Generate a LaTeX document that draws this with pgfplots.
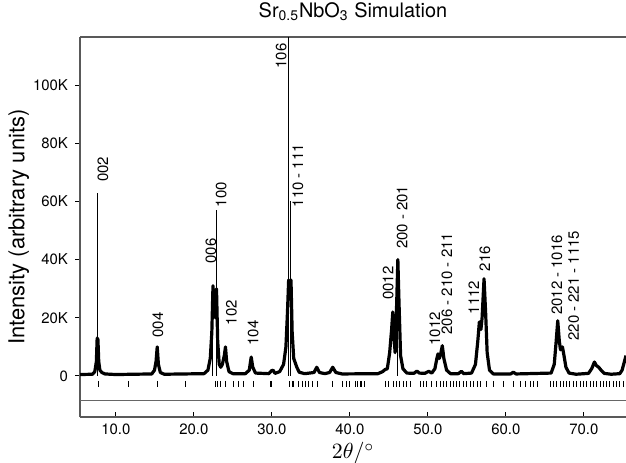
\documentclass[border=0pt]{standalone}
\usepackage{fontspec}
\setmainfont{TeX Gyre Heros}
\usepackage{pgfplots}
\usepackage{pgfplotstable}
\pgfplotsset{compat=1.18}
\usetikzlibrary{calc}

% simulated profile, intensity in thousands of counts
\pgfplotstableread{
x y
5.4 0.5
7.0 0.6
7.3 1.5
7.5 5
7.6 13
7.7 12.5
7.8 5
7.95 2
8.2 1.2
8.6 0.7
10.0 0.5
14.6 0.7
14.95 2
15.15 5
15.3 10
15.45 4
15.7 1.2
16.2 0.6
21.3 0.8
21.8 2
22.1 6
22.3 15
22.45 31
22.6 22
22.75 20
22.9 30
23.05 12
23.25 4
23.45 3
23.65 4
23.9 7
24.05 10
24.2 5
24.5 1.5
25.0 0.8
26.6 0.8
27.1 2
27.35 6.5
27.55 3
27.9 1
29.6 0.8
29.95 1.8
30.15 2
30.4 0.9
31.0 1.5
31.5 4
31.8 10
32.0 22
32.15 33
32.3 28
32.45 33
32.6 15
32.8 6
33.0 4.5
33.2 3
33.5 1.3
34.2 0.8
35.4 1.2
35.75 3
36.1 1.2
36.8 0.8
37.4 1.2
37.8 3
38.2 1.2
39.0 0.7
43.6 0.8
44.2 1.5
44.5 2.2
44.8 2.5
45.1 8
45.35 16
45.5 22
45.7 12
45.8 8
46.0 25
46.15 40
46.3 25
46.5 7
46.8 2.5
47.3 1
48.2 0.9
48.6 1.7
48.9 1
49.6 0.9
50.1 1.6
50.5 1
50.9 2.5
51.15 6
51.3 7.6
51.45 6
51.6 7
51.85 10.4
52.05 6
52.4 2
52.9 0.8
53.9 0.8
54.3 1.6
54.6 0.8
55.6 1
56.1 4
56.4 12
56.6 18.6
56.8 16
56.95 20
57.2 33.4
57.4 22
57.6 8
57.9 2
58.4 0.7
60.6 0.7
60.95 1.3
61.3 0.7
65.8 1
66.2 4
66.45 12
66.65 19
66.85 12
67.0 9
67.25 10
67.45 7
67.7 3
68.1 1
69.0 0.6
70.6 0.9
71.0 2.5
71.35 4.8
71.6 3.6
71.9 3
72.2 2
72.6 0.9
73.5 0.6
74.6 0.8
74.9 2
75.15 4.5
75.4 7
}\profile

% reflection positions (marker row below the baseline)
\pgfplotstableread{
x y
7.7 -2.8
11.55 -2.8
15.3 -2.8
18.9 -2.8
22.7 -2.8
23.0 -2.8
23.35 -2.8
24.0 -2.8
25.05 -2.8
25.7 -2.8
26.3 -2.8
27.6 -2.8
29.75 -2.8
30.0 -2.8
32.3 -2.8
32.6 -2.8
32.7 -2.8
33.4 -2.8
33.9 -2.8
34.25 -2.8
34.65 -2.8
35.15 -2.8
35.8 -2.8
37.7 -2.8
37.8 -2.8
39.1 -2.8
39.6 -2.8
40.0 -2.8
40.7 -2.8
40.9 -2.8
41.3 -2.8
41.5 -2.8
41.9 -2.8
44.5 -2.8
44.9 -2.8
45.6 -2.8
46.0 -2.8
46.4 -2.8
46.85 -2.8
47.3 -2.8
47.7 -2.8
49.0 -2.8
49.4 -2.8
49.85 -2.8
50.5 -2.8
51.1 -2.8
51.55 -2.8
52.0 -2.8
52.4 -2.8
52.85 -2.8
53.3 -2.8
53.7 -2.8
54.1 -2.8
54.55 -2.8
55.0 -2.8
55.4 -2.8
55.8 -2.8
56.3 -2.8
56.7 -2.8
57.55 -2.8
58.4 -2.8
59.7 -2.8
61.0 -2.8
61.8 -2.8
62.5 -2.8
63.1 -2.8
63.5 -2.8
64.0 -2.8
65.7 -2.8
66.1 -2.8
66.5 -2.8
67.0 -2.8
67.4 -2.8
67.8 -2.8
68.2 -2.8
68.65 -2.8
69.1 -2.8
69.5 -2.8
69.9 -2.8
70.35 -2.8
70.8 -2.8
71.2 -2.8
71.6 -2.8
72.1 -2.8
72.5 -2.8
72.9 -2.8
73.3 -2.8
73.8 -2.8
74.2 -2.8
74.6 -2.8
75.05 -2.8
}\refl

\begin{document}
\begin{tikzpicture}
\begin{axis}[
    scale only axis, width=273bp, height=190bp,
    xmin=5.4, xmax=75.4, ymin=-14.1, ymax=116.5,
    axis x line*=box, axis y line*=left,
    axis line style={black!65, line width=0.6bp, -},
    xtick={10,20,30,40,50,60,70},
    xticklabels={10.0,20.0,30.0,40.0,50.0,60.0,70.0},
    ytick={0,20,40,60,80,100},
    yticklabels={0,20K,40K,60K,80K,100K},
    xtick pos=bottom, ytick pos=left,
    xtick align=inside, ytick align=outside,
    major tick length=2.5bp,
    tick style={black, line width=0.5bp},
    ticklabel style={font=\fontsize{7.5}{8}\selectfont},
    /pgf/number format/assume math mode=true,
    xlabel={$2\theta/^{\circ}$},
    xlabel style={font=\fontsize{11}{12}\selectfont, yshift=3bp},
    ylabel={Intensity (arbitrary units)},
    ylabel style={font=\fontsize{11}{12}\selectfont,
        at={(axis description cs:-0.112,0.5)}, anchor=center},
    title={Sr\textsubscript{0.5}NbO\textsubscript{3} Simulation},
    title style={font=\fontsize{10}{11}\selectfont, yshift=-1.5bp},
    clip=true,
]
\addplot[black, line width=0.5bp, ycomb] coordinates {
    (7.7,63) (22.45,31) (22.9,57) (32.15,125) (32.45,60) (46.15,40)
};
\addplot[black, line width=1.6bp, line join=round] table[x=x, y=y] {\profile};
\addplot[black, only marks, mark=|, mark size=1.6bp,
    mark options={line width=0.4bp}] table[x=x, y=y] {\refl};
\addplot[black!60, line width=0.6bp] coordinates {(5.4,-8.4) (75.4,-8.4)};

\begin{scope}[every node/.style={rotate=90, anchor=west, inner sep=0.8bp,
        font=\fontsize{7.5}{8}\selectfont}]
\node at (axis cs:8.35,66) {002};
\node at (axis cs:15.4,12.5) {004};
\node at (axis cs:22.2,38) {006};
\node at (axis cs:23.5,57.3) {100};
\node at (axis cs:24.8,16.8) {102};
\node at (axis cs:27.6,9.8) {104};
\node at (axis cs:31.2,105) {106};
\node at (axis cs:33.35,57.3) {110 - 111};
\node at (axis cs:44.9,25.5) {0012};
\node at (axis cs:46.7,43) {200 - 201};
\node at (axis cs:50.9,9.8) {1012};
\node at (axis cs:52.45,13.6) {206 - 210 - 211};
\node at (axis cs:55.9,20.6) {1112};
\node at (axis cs:57.3,35.3) {216};
\node at (axis cs:66.55,20.3) {2012 - 1016};
\node at (axis cs:68.7,11.5) {220 - 221 - 1115};
\end{scope}
\end{axis}
\pgfresetboundingbox
\path[use as bounding box] ($(current axis.south west)+(-40bp,-22.5bp)$)
    rectangle ($(current axis.north east)+(0bp,18.5bp)$);
\end{tikzpicture}
\end{document}
